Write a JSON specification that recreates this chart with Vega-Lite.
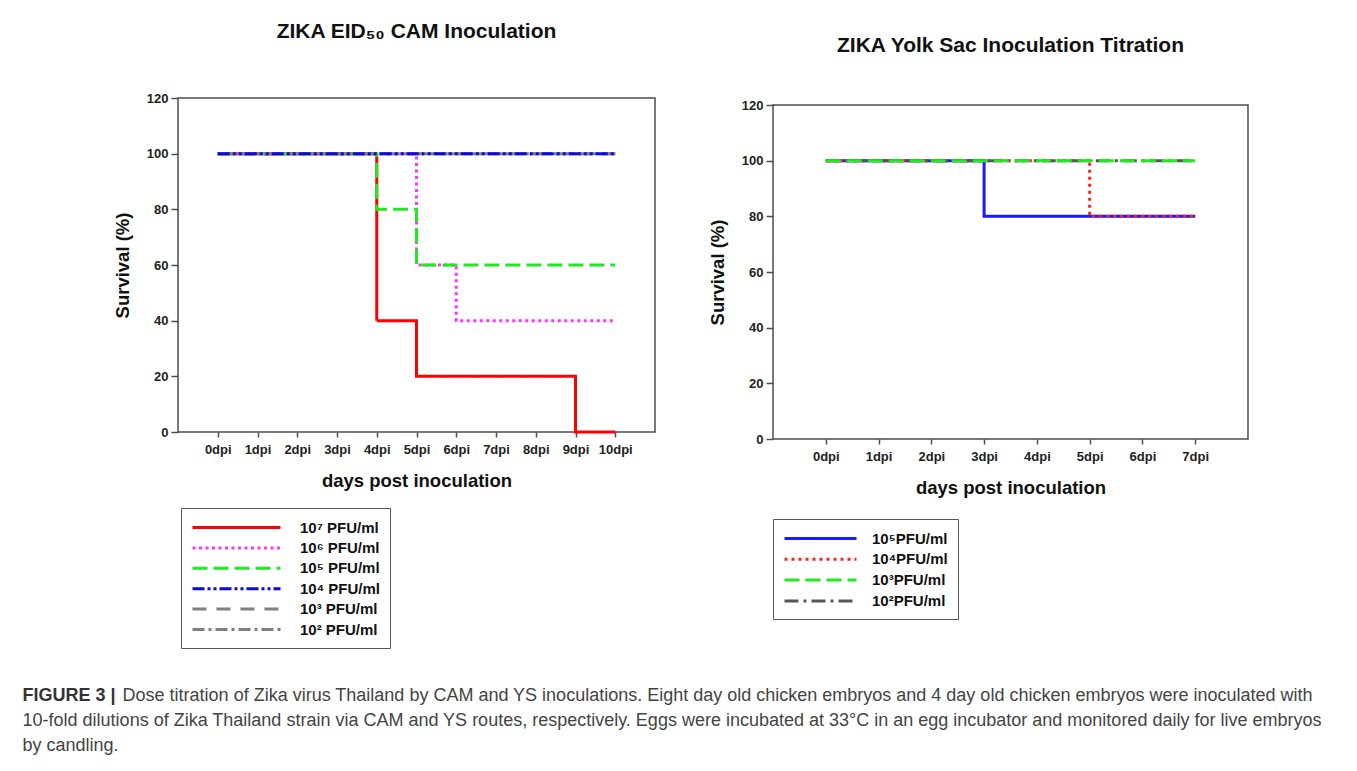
{
  "$schema": "https://vega.github.io/schema/vega-lite/v6.json",
  "background": "white",
  "padding": {"left": 22, "top": 20, "right": 5, "bottom": 5},
  "config": {
    "font": "Liberation Sans",
    "view": {"stroke": "#4d4d4d", "strokeWidth": 1.5},
    "axis": {"grid": false, "domain": false, "labelFont": "Liberation Sans", "labelFontWeight": "bold", "labelFontSize": 13, "labelColor": "#222222", "titleFont": "Liberation Sans", "titleFontWeight": "bold", "titleFontSize": 18.5, "titleColor": "#111111", "tickColor": "#4d4d4d", "tickWidth": 1.5},
    "axisX": {"tickSize": 5, "labelPadding": 6, "titlePadding": 15},
    "axisY": {"tickSize": 7, "labelPadding": 3, "titlePadding": 14},
    "legend": {"labelFont": "Liberation Sans", "labelFontSize": 15, "labelFontWeight": "bold", "labelColor": "#111111", "strokeColor": "#555555", "fillColor": "white", "padding": 10},
    "title": {"font": "Liberation Sans", "fontSize": 21, "fontWeight": "bold", "color": "#111111"}
  },
  "datasets": {
    "cam": [
      {"dose": "10⁷ PFU/ml", "day": 0, "survival": 100}, {"dose": "10⁷ PFU/ml", "day": 1, "survival": 100}, {"dose": "10⁷ PFU/ml", "day": 2, "survival": 100}, {"dose": "10⁷ PFU/ml", "day": 3, "survival": 100}, {"dose": "10⁷ PFU/ml", "day": 4, "survival": 40}, {"dose": "10⁷ PFU/ml", "day": 5, "survival": 20}, {"dose": "10⁷ PFU/ml", "day": 6, "survival": 20}, {"dose": "10⁷ PFU/ml", "day": 7, "survival": 20}, {"dose": "10⁷ PFU/ml", "day": 8, "survival": 20}, {"dose": "10⁷ PFU/ml", "day": 9, "survival": 0}, {"dose": "10⁷ PFU/ml", "day": 10, "survival": 0},
      {"dose": "10⁶ PFU/ml", "day": 0, "survival": 100}, {"dose": "10⁶ PFU/ml", "day": 1, "survival": 100}, {"dose": "10⁶ PFU/ml", "day": 2, "survival": 100}, {"dose": "10⁶ PFU/ml", "day": 3, "survival": 100}, {"dose": "10⁶ PFU/ml", "day": 4, "survival": 100}, {"dose": "10⁶ PFU/ml", "day": 5, "survival": 60}, {"dose": "10⁶ PFU/ml", "day": 6, "survival": 40}, {"dose": "10⁶ PFU/ml", "day": 7, "survival": 40}, {"dose": "10⁶ PFU/ml", "day": 8, "survival": 40}, {"dose": "10⁶ PFU/ml", "day": 9, "survival": 40}, {"dose": "10⁶ PFU/ml", "day": 10, "survival": 40},
      {"dose": "10⁵ PFU/ml", "day": 0, "survival": 100}, {"dose": "10⁵ PFU/ml", "day": 1, "survival": 100}, {"dose": "10⁵ PFU/ml", "day": 2, "survival": 100}, {"dose": "10⁵ PFU/ml", "day": 3, "survival": 100}, {"dose": "10⁵ PFU/ml", "day": 4, "survival": 80}, {"dose": "10⁵ PFU/ml", "day": 5, "survival": 60}, {"dose": "10⁵ PFU/ml", "day": 6, "survival": 60}, {"dose": "10⁵ PFU/ml", "day": 7, "survival": 60}, {"dose": "10⁵ PFU/ml", "day": 8, "survival": 60}, {"dose": "10⁵ PFU/ml", "day": 9, "survival": 60}, {"dose": "10⁵ PFU/ml", "day": 10, "survival": 60},
      {"dose": "10³ PFU/ml", "day": 0, "survival": 100}, {"dose": "10³ PFU/ml", "day": 1, "survival": 100}, {"dose": "10³ PFU/ml", "day": 2, "survival": 100}, {"dose": "10³ PFU/ml", "day": 3, "survival": 100}, {"dose": "10³ PFU/ml", "day": 4, "survival": 100}, {"dose": "10³ PFU/ml", "day": 5, "survival": 100}, {"dose": "10³ PFU/ml", "day": 6, "survival": 100}, {"dose": "10³ PFU/ml", "day": 7, "survival": 100}, {"dose": "10³ PFU/ml", "day": 8, "survival": 100}, {"dose": "10³ PFU/ml", "day": 9, "survival": 100}, {"dose": "10³ PFU/ml", "day": 10, "survival": 100},
      {"dose": "10² PFU/ml", "day": 0, "survival": 100}, {"dose": "10² PFU/ml", "day": 1, "survival": 100}, {"dose": "10² PFU/ml", "day": 2, "survival": 100}, {"dose": "10² PFU/ml", "day": 3, "survival": 100}, {"dose": "10² PFU/ml", "day": 4, "survival": 100}, {"dose": "10² PFU/ml", "day": 5, "survival": 100}, {"dose": "10² PFU/ml", "day": 6, "survival": 100}, {"dose": "10² PFU/ml", "day": 7, "survival": 100}, {"dose": "10² PFU/ml", "day": 8, "survival": 100}, {"dose": "10² PFU/ml", "day": 9, "survival": 100}, {"dose": "10² PFU/ml", "day": 10, "survival": 100},
      {"dose": "10⁴ PFU/ml", "day": 0, "survival": 100}, {"dose": "10⁴ PFU/ml", "day": 1, "survival": 100}, {"dose": "10⁴ PFU/ml", "day": 2, "survival": 100}, {"dose": "10⁴ PFU/ml", "day": 3, "survival": 100}, {"dose": "10⁴ PFU/ml", "day": 4, "survival": 100}, {"dose": "10⁴ PFU/ml", "day": 5, "survival": 100}, {"dose": "10⁴ PFU/ml", "day": 6, "survival": 100}, {"dose": "10⁴ PFU/ml", "day": 7, "survival": 100}, {"dose": "10⁴ PFU/ml", "day": 8, "survival": 100}, {"dose": "10⁴ PFU/ml", "day": 9, "survival": 100}, {"dose": "10⁴ PFU/ml", "day": 10, "survival": 100}
    ],
    "ys": [
      {"titre": "10⁵PFU/ml", "day": 0, "survival": 100}, {"titre": "10⁵PFU/ml", "day": 1, "survival": 100}, {"titre": "10⁵PFU/ml", "day": 2, "survival": 100}, {"titre": "10⁵PFU/ml", "day": 3, "survival": 80}, {"titre": "10⁵PFU/ml", "day": 4, "survival": 80}, {"titre": "10⁵PFU/ml", "day": 5, "survival": 80}, {"titre": "10⁵PFU/ml", "day": 6, "survival": 80}, {"titre": "10⁵PFU/ml", "day": 7, "survival": 80},
      {"titre": "10⁴PFU/ml", "day": 0, "survival": 100}, {"titre": "10⁴PFU/ml", "day": 1, "survival": 100}, {"titre": "10⁴PFU/ml", "day": 2, "survival": 100}, {"titre": "10⁴PFU/ml", "day": 3, "survival": 100}, {"titre": "10⁴PFU/ml", "day": 4, "survival": 100}, {"titre": "10⁴PFU/ml", "day": 5, "survival": 80}, {"titre": "10⁴PFU/ml", "day": 6, "survival": 80}, {"titre": "10⁴PFU/ml", "day": 7, "survival": 80},
      {"titre": "10²PFU/ml", "day": 0, "survival": 100}, {"titre": "10²PFU/ml", "day": 1, "survival": 100}, {"titre": "10²PFU/ml", "day": 2, "survival": 100}, {"titre": "10²PFU/ml", "day": 3, "survival": 100}, {"titre": "10²PFU/ml", "day": 4, "survival": 100}, {"titre": "10²PFU/ml", "day": 5, "survival": 100}, {"titre": "10²PFU/ml", "day": 6, "survival": 100}, {"titre": "10²PFU/ml", "day": 7, "survival": 100},
      {"titre": "10³PFU/ml", "day": 0, "survival": 100}, {"titre": "10³PFU/ml", "day": 1, "survival": 100}, {"titre": "10³PFU/ml", "day": 2, "survival": 100}, {"titre": "10³PFU/ml", "day": 3, "survival": 100}, {"titre": "10³PFU/ml", "day": 4, "survival": 100}, {"titre": "10³PFU/ml", "day": 5, "survival": 100}, {"titre": "10³PFU/ml", "day": 6, "survival": 100}, {"titre": "10³PFU/ml", "day": 7, "survival": 100}
    ]
  },
  "title": {
    "text": "FIGURE 3 |",
    "subtitle": [
      "\u200b\u00a0\u00a0\u00a0\u00a0\u00a0\u00a0\u00a0\u00a0\u00a0\u00a0\u00a0\u00a0\u00a0\u00a0\u00a0\u00a0\u00a0\u00a0\u00a0\u00a0Dose titration of Zika virus Thailand by CAM and YS inoculations. Eight day old chicken embryos and 4 day old chicken embryos were inoculated with",
      "10-fold dilutions of Zika Thailand strain via CAM and YS routes, respectively. Eggs were incubated at 33°C in an egg incubator and monitored daily for live embryos",
      "by candling."
    ],
    "orient": "bottom", "anchor": "start", "frame": "bounds", "dx": -90, "offset": 38,
    "font": "Liberation Sans", "fontSize": 18, "fontWeight": "bold", "color": "#333333",
    "subtitleFont": "Liberation Sans", "subtitleFontSize": 18, "subtitleFontWeight": "normal", "subtitleColor": "#444444", "subtitleLineHeight": 25, "subtitlePadding": -18
  },
  "bounds": "flush",
  "spacing": 118,
  "resolve": {"scale": {"x": "independent", "y": "independent", "color": "independent", "strokeDash": "independent", "strokeWidth": "independent"}, "legend": {"color": "independent", "strokeDash": "independent", "strokeWidth": "independent"}},
  "hconcat": [
    {
      "width": 477, "height": 334,
      "title": {"text": "ZIKA EID₅₀ CAM Inoculation", "offset": 50},
      "data": {"name": "cam"},
      "mark": {"type": "line", "interpolate": "step-after"},
      "encoding": {
        "x": {"field": "day", "type": "quantitative", "scale": {"domain": [-1, 11], "nice": false, "zero": false},
              "axis": {"values": [0, 1, 2, 3, 4, 5, 6, 7, 8, 9, 10], "labelExpr": "datum.value + 'dpi'", "title": "days post inoculation"}},
        "y": {"field": "survival", "type": "quantitative", "scale": {"domain": [0, 120], "nice": false},
              "axis": {"values": [0, 20, 40, 60, 80, 100, 120], "title": "Survival (%)"}},
        "color": {"field": "dose", "type": "nominal",
                  "scale": {"domain": ["10⁷ PFU/ml", "10⁶ PFU/ml", "10⁵ PFU/ml", "10⁴ PFU/ml", "10³ PFU/ml", "10² PFU/ml"], "range": ["#ff0000", "#ff33ff", "#22e822", "#0a0ae0", "#808080", "#808080"]},
                  "legend": {"title": null, "orient": "none", "legendX": 3, "legendY": 410, "symbolType": "M-1,0H10", "symbolSize": 256, "labelOffset": 90, "rowPadding": 2.4}},
        "strokeDash": {"field": "dose", "type": "nominal",
                       "scale": {"domain": ["10⁷ PFU/ml", "10⁶ PFU/ml", "10⁵ PFU/ml", "10⁴ PFU/ml", "10³ PFU/ml", "10² PFU/ml"], "range": [[1, 0], [3, 3.5], [15, 6], [12, 3, 3, 3, 3, 3], [14, 10], [12, 4, 3, 4]]},
                       "legend": {"title": null, "orient": "none", "legendX": 3, "legendY": 410, "symbolType": "M-1,0H10", "symbolSize": 256, "labelOffset": 90, "rowPadding": 2.4}},
        "strokeWidth": {"field": "dose", "type": "nominal",
                        "scale": {"domain": ["10⁷ PFU/ml", "10⁶ PFU/ml", "10⁵ PFU/ml", "10⁴ PFU/ml", "10³ PFU/ml", "10² PFU/ml"], "range": [3, 3, 3, 3, 1.5, 1.5]},
                        "legend": {"title": null, "orient": "none", "legendX": 3, "legendY": 410, "symbolType": "M-1,0H10", "symbolSize": 256, "labelOffset": 90, "rowPadding": 2.4}}
      }
    },
    {
      "bounds": "flush",
      "spacing": 6,
      "vconcat": [
        {"width": 475, "height": 1, "view": {"stroke": null}, "data": {"values": [{"a": 1}]}, "mark": {"type": "text", "text": " "}, "encoding": {}},
        {
          "width": 475, "height": 334,
          "title": {"text": "ZIKA Yolk Sac Inoculation Titration", "offset": 43},
          "data": {"name": "ys"},
          "mark": {"type": "line", "interpolate": "step-after"},
          "encoding": {
            "x": {"field": "day", "type": "quantitative", "scale": {"domain": [-1, 8], "nice": false, "zero": false},
                  "axis": {"values": [0, 1, 2, 3, 4, 5, 6, 7], "labelExpr": "datum.value + 'dpi'", "title": "days post inoculation"}},
            "y": {"field": "survival", "type": "quantitative", "scale": {"domain": [0, 120], "nice": false},
                  "axis": {"values": [0, 20, 40, 60, 80, 100, 120], "title": "Survival (%)"}},
            "color": {"field": "titre", "type": "nominal",
                      "scale": {"domain": ["10⁵PFU/ml", "10⁴PFU/ml", "10³PFU/ml", "10²PFU/ml"], "range": ["#1a1aff", "#ff2020", "#22e822", "#555555"]},
                      "legend": {"title": null, "orient": "none", "legendX": 0, "legendY": 421, "symbolType": "M-1,0H8", "symbolSize": 256, "labelOffset": 70, "padding": 10, "rowPadding": 2.8}},
            "strokeDash": {"field": "titre", "type": "nominal",
                           "scale": {"domain": ["10⁵PFU/ml", "10⁴PFU/ml", "10³PFU/ml", "10²PFU/ml"], "range": [[1, 0], [3, 4], [15, 6], [14, 5, 3, 5]]},
                           "legend": {"title": null, "orient": "none", "legendX": 0, "legendY": 421, "symbolType": "M-1,0H8", "symbolSize": 256, "labelOffset": 70, "padding": 10, "rowPadding": 2.8}},
            "strokeWidth": {"field": "titre", "type": "nominal",
                            "scale": {"domain": ["10⁵PFU/ml", "10⁴PFU/ml", "10³PFU/ml", "10²PFU/ml"], "range": [3, 3, 3, 2]},
                            "legend": {"title": null, "orient": "none", "legendX": 0, "legendY": 421, "symbolType": "M-1,0H8", "symbolSize": 256, "labelOffset": 70, "padding": 10, "rowPadding": 2.8}}
          }
        }
      ]
    }
  ]
}
